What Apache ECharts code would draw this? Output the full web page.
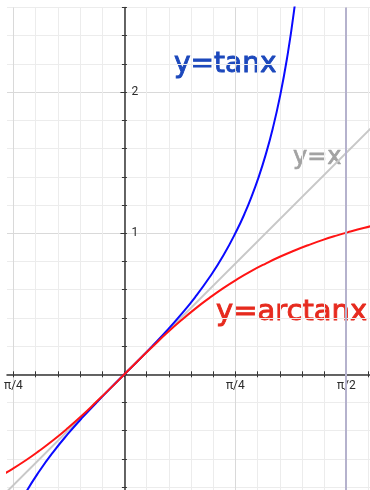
<!DOCTYPE html>
<html>
<head>
<meta charset="utf-8">
<script src="https://cdn.jsdelivr.net/npm/echarts@6/dist/echarts.min.js"></script>
<style>
  html, body { margin: 0; padding: 0; background: #ffffff; }
  #chart { width: 370px; height: 490px; }
</style>
</head>
<body>
<div id="chart"></div>
<script>
// Sampled points of y = arctan x
const arctanX = [-0.9, -0.8, -0.7, -0.6, -0.5, -0.4, -0.3, -0.2, -0.1, 0, 0.1, 0.2, 0.3, 0.4, 0.5, 0.6, 0.7, 0.8, 0.9, 1.0, 1.1, 1.2, 1.3, 1.4, 1.5, 1.6, 1.7, 1.8];
const arctanY = [-0.733, -0.675, -0.611, -0.540, -0.464, -0.381, -0.292, -0.197, -0.100, 0, 0.100, 0.197, 0.292, 0.381, 0.464, 0.540, 0.611, 0.675, 0.733, 0.785, 0.833, 0.876, 0.915, 0.951, 0.983, 1.012, 1.039, 1.064];

// Sampled points of y = tan x
const tanX = [-0.8, -0.7, -0.6, -0.5, -0.4, -0.3, -0.2, -0.1, 0, 0.1, 0.2, 0.3, 0.4, 0.5, 0.6, 0.7, 0.8, 0.85, 0.9, 0.95, 1.0, 1.05, 1.1, 1.15, 1.2, 1.25];
const tanY = [-1.030, -0.842, -0.684, -0.546, -0.423, -0.309, -0.203, -0.100, 0, 0.100, 0.203, 0.309, 0.423, 0.546, 0.684, 0.842, 1.030, 1.138, 1.260, 1.398, 1.557, 1.743, 1.965, 2.235, 2.572, 3.010];

// End points of y = x
const identityX = [-0.9, 1.8];
const identityY = [-0.9, 1.8];

// Labelled ticks
const xTickValues = [-Math.PI / 4, Math.PI / 4, Math.PI / 2];
const xTickLabels = ['π/4', 'π/4', 'π/2'];
const yTickValues = [1, 2];
const yTickLabels = ['1', '2'];

// Vertical reference line
const asymptoteX = Math.PI / 2;

// Curve captions
const captions = ['y=tanx', 'y=x', 'y=arctanx'];

// Minor divisions: π/20 horizontally, 0.2 vertically
const xMinorTicks = [];
for (let k = -5; k <= 11; k++) xMinorTicks.push(k * Math.PI / 20);
const yMinorTicks = [];
for (let k = -4; k <= 13; k++) yMinorTicks.push(Math.round(k * 2) / 10);

const xMin = -0.8309, xMax = 1.7381;
const yMin = -0.8201, yMax = 2.6;

const gridBox = { left: 7, top: 7.5, width: 363, height: 482.5 };

// Pixel distance from the grid's bottom / left edge to the zero lines,
// used to slide the overlay axes onto the crossing point
const xAxisShift = -gridBox.height * (0 - yMin) / (yMax - yMin);
const yAxisShift = -gridBox.width * (0 - xMin) / (xMax - xMin);

const axisColor = '#333333';
const minorGrid = '#ececec';
const majorGrid = '#d9d9d9';

function pick(values, labels) {
  return function (v) {
    for (let i = 0; i < values.length; i++) {
      if (Math.abs(v - values[i]) < 1e-6) return labels[i];
    }
    return '';
  };
}

function zip(a, b) { return a.map((v, i) => [v, b[i]]); }

const baseX = { type: 'value', min: xMin, max: xMax, position: 'bottom', gridIndex: 0 };
const baseY = { type: 'value', min: yMin, max: yMax, position: 'left', gridIndex: 0 };
const overlayX = Object.assign({}, baseX, { offset: xAxisShift });
const overlayY = Object.assign({}, baseY, { offset: yAxisShift });
const noLine = { show: false, onZero: false };

const chart = echarts.init(document.getElementById('chart'), null, { renderer: 'canvas' });

chart.setOption({
  animation: false,
  backgroundColor: '#ffffff',
  grid: Object.assign({ containLabel: false, outerBoundsMode: 'none' }, gridBox),
  xAxis: [
    Object.assign({}, overlayX, {
      axisLine: { show: true, onZero: false, lineStyle: { color: axisColor, width: 1.5 } },
      axisTick: { show: true, inside: true, length: 3, customValues: xMinorTicks, lineStyle: { color: axisColor, width: 1 } },
      axisLabel: { show: false },
      splitLine: { show: true, lineStyle: { color: minorGrid, width: 1 } }
    }),
    Object.assign({}, overlayX, {
      axisLine: noLine,
      axisTick: { show: false, customValues: xTickValues },
      axisLabel: { show: false },
      splitLine: { show: true, lineStyle: { color: majorGrid, width: 1 } }
    }),
    Object.assign({}, overlayX, {
      axisLine: noLine,
      axisTick: { show: true, inside: false, length: 3, customValues: xMinorTicks, lineStyle: { color: axisColor, width: 1 } },
      axisLabel: {
        show: true, customValues: xTickValues, formatter: pick(xTickValues, xTickLabels),
        margin: 6, color: '#2b2b2b', fontSize: 12, fontFamily: 'Roboto', verticalAlign: 'top'
      },
      splitLine: { show: false }
    })
  ],
  yAxis: [
    Object.assign({}, overlayY, {
      axisLine: { show: true, onZero: false, lineStyle: { color: axisColor, width: 1.5 } },
      axisTick: { show: true, inside: true, length: 2.5, customValues: yMinorTicks, lineStyle: { color: axisColor, width: 1 } },
      axisLabel: { show: false },
      splitLine: { show: true, lineStyle: { color: minorGrid, width: 1 } }
    }),
    Object.assign({}, overlayY, {
      axisLine: noLine,
      axisTick: { show: true, inside: false, length: 4, customValues: yTickValues, lineStyle: { color: axisColor, width: 1 } },
      axisLabel: { show: false },
      splitLine: { show: true, lineStyle: { color: majorGrid, width: 1 } }
    }),
    Object.assign({}, overlayY, {
      axisLine: noLine,
      axisTick: { show: true, inside: false, length: 2.5, customValues: yMinorTicks, lineStyle: { color: axisColor, width: 1 } },
      axisLabel: {
        show: true, inside: true, customValues: yTickValues, formatter: pick(yTickValues, yTickLabels),
        margin: 7, color: '#2b2b2b', fontSize: 12, fontFamily: 'Roboto'
      },
      splitLine: { show: false }
    })
  ],
  series: [
    {
      name: 'x = π/2',
      type: 'line',
      data: [],
      silent: true,
      markLine: {
        silent: true,
        symbol: 'none',
        label: { show: false },
        lineStyle: { color: '#b5b2cd', width: 2, type: 'solid' },
        data: [{ xAxis: asymptoteX }]
      }
    },
    {
      name: captions[1],
      type: 'line',
      data: zip(identityX, identityY),
      showSymbol: false,
      silent: true,
      lineStyle: { color: '#c8c8c8', width: 2 }
    },
    {
      name: captions[0],
      type: 'line',
      data: zip(tanX, tanY),
      smooth: true,
      showSymbol: false,
      silent: true,
      lineStyle: { color: '#0a0aff', width: 2 }
    },
    {
      name: captions[2],
      type: 'line',
      data: zip(arctanX, arctanY),
      smooth: true,
      showSymbol: false,
      silent: true,
      lineStyle: { color: '#ff1414', width: 2 }
    }
  ],
  graphic: [
    {
      type: 'text', x: 174, y: 65, silent: true,
      style: { text: captions[0], font: '28px "DejaVu Sans"', fill: '#1c48bc', stroke: '#1c48bc', lineWidth: 0.9, align: 'left', verticalAlign: 'middle' }
    },
    {
      type: 'text', x: 293, y: 158, silent: true,
      style: { text: captions[1], font: '24px "DejaVu Sans"', fill: '#a2a2a2', stroke: '#a2a2a2', lineWidth: 0.7, align: 'left', verticalAlign: 'middle' }
    },
    {
      type: 'text', x: 216, y: 312, silent: true,
      style: { text: captions[2], font: '29px "DejaVu Sans"', fill: '#e62a1e', stroke: '#e62a1e', lineWidth: 0.9, align: 'left', verticalAlign: 'middle' }
    }
  ]
});
</script>
</body>
</html>
